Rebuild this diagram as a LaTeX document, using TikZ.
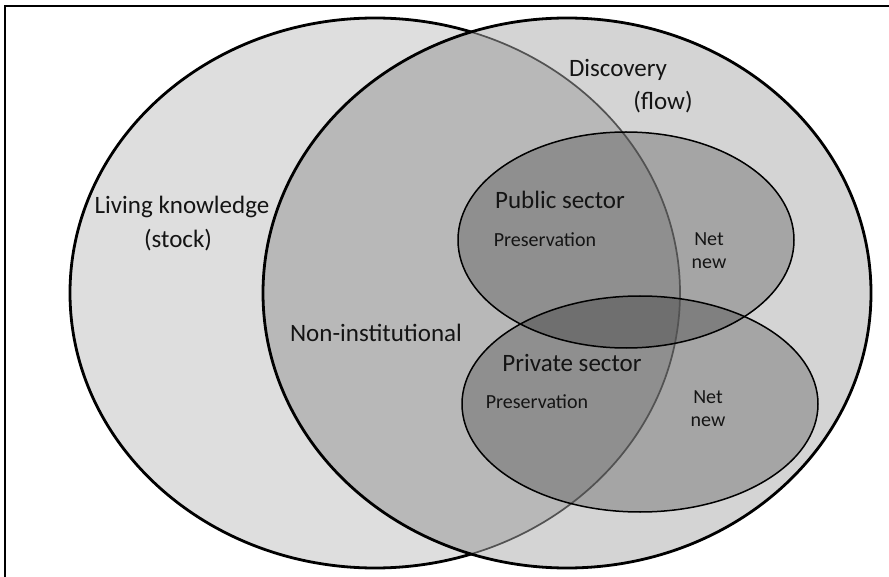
\documentclass[tikz,border=0pt]{standalone}
\usepackage{fontspec}
\setmainfont{Carlito}
\begin{document}
\begin{tikzpicture}[x=1pt,y=-1pt,
  bigline/.style={line width=2.8pt,black},
  innerline/.style={line width=1.7pt,black!68},
  setline/.style={line width=1.5pt,black},
  biglabel/.style={font=\fontsize{25}{27}\selectfont,text=black!92,inner sep=0pt},
  smalllabel/.style={font=\fontsize{20}{23}\selectfont,text=black!92,inner sep=0pt,align=center}]
\useasboundingbox (0,0) rectangle (889,577);
\fill[white] (0,0) rectangle (889,577);
% frame
\draw[line width=2.6pt] (5,577) -- (5,6) -- (889,6);

% set shapes
\def\livingpath{(375,293) ellipse [x radius=305, y radius=275]}
\def\discpath{(567,293) ellipse [x radius=304, y radius=275]}
\def\publicpath{(626,240) ellipse [x radius=168, y radius=108]}
\def\privatepath{(640,404) ellipse [x radius=178, y radius=108]}

% fills
\fill[black!13] \livingpath;
\fill[black,fill opacity=0.17] \discpath;
\fill[black,fill opacity=0.22] \publicpath;
\fill[black,fill opacity=0.22] \privatepath;

% living knowledge outline: heavy outside, lighter where it is covered
\begin{scope}[even odd rule]
  \clip (0,0) rectangle (889,577) \discpath;
  \draw[bigline] \livingpath;
\end{scope}
\begin{scope}
  \clip \discpath;
  \draw[innerline] \livingpath;
\end{scope}
\draw[bigline] \discpath;
\draw[setline] \publicpath;
\draw[setline] \privatepath;

% labels
\node[biglabel] (living) at (182,207) {Living knowledge};
\node[biglabel] (stock) at (178,240) {(stock)};
\node[biglabel] (disc) at (618,70) {Discovery};
\node[biglabel] (flow) at (663,102) {(flow)};
\node[biglabel] (nonins) at (376,333) {Non-institutional};
\node[biglabel] (public) at (560,200) {Public sector};
\node[smalllabel] (pubpres) at (545,240) {Preservation};
\node[smalllabel] (pubnew) at (709,251) {Net\\new};
\node[biglabel] (private) at (572,363) {Private sector};
\node[smalllabel] (privpres) at (537,402) {Preservation};
\node[smalllabel] (privnew) at (708,409) {Net\\new};
\end{tikzpicture}
\end{document}
